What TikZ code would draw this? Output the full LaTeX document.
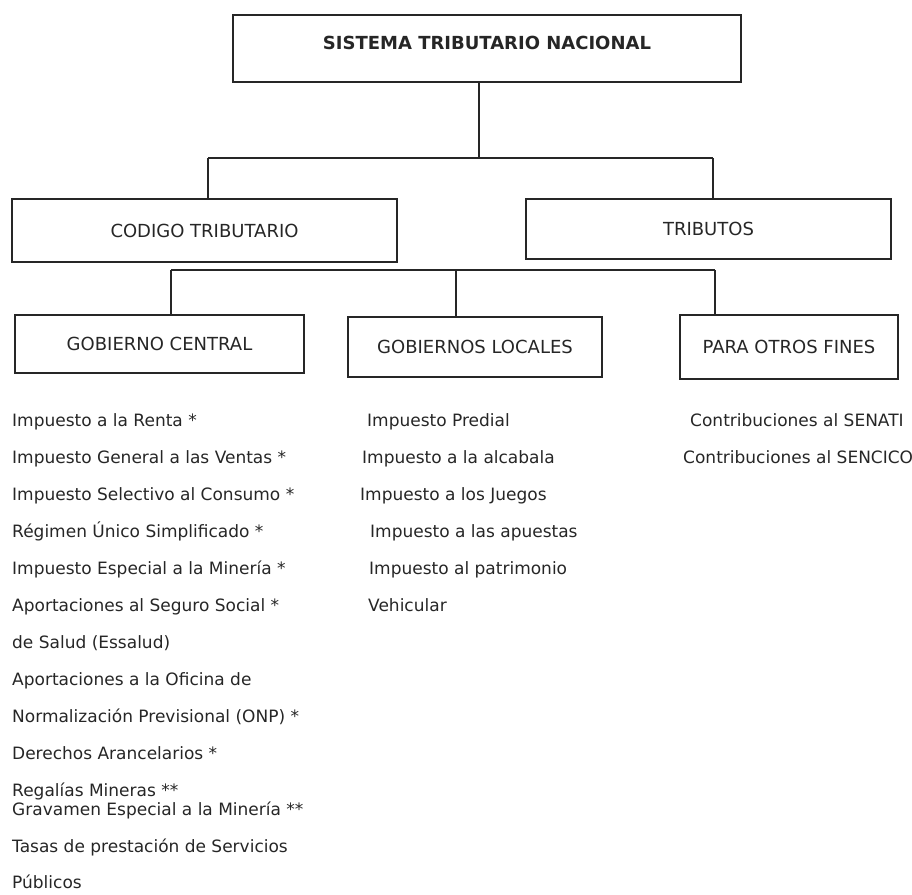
\documentclass[tikz,border=0pt]{standalone}
\usepackage{fontspec}
\setmainfont{DejaVu Sans}
\usepackage{tikz}
\usetikzlibrary{positioning}

\begin{document}
\begin{tikzpicture}[x=1pt, y=-1pt,
    box/.style={rectangle, draw=black!85, line width=1.3pt, inner sep=0pt, align=center, text=black!85, font=\fontsize{18}{22}\selectfont},
    item/.style={anchor=base west, inner sep=0pt, text=black!85, font=\fontsize{17}{21}\selectfont},
    link/.style={draw=black!85, line width=1.4pt}]

\useasboundingbox (0,0) rectangle (912,894);

% Root
\node[box, line width=2.6pt, minimum width=508pt, minimum height=67pt, text depth=12pt,
      font=\bfseries\fontsize{18}{22}\selectfont] (sistema) at (487,48.5) {SISTEMA TRIBUTARIO NACIONAL};

% Second level
\node[box, minimum width=385pt, minimum height=63pt] (codigo) at (204.5,230.5) {CODIGO TRIBUTARIO};
\node[box, minimum width=365pt, minimum height=60pt] (tributos) at (708.5,229) {TRIBUTOS};

% Third level
\node[box, line width=1.8pt, minimum width=289pt, minimum height=58pt] (central) at (159.5,344) {GOBIERNO CENTRAL};
\node[box, minimum width=254pt, minimum height=60pt] (locales) at (475,347) {GOBIERNOS LOCALES};
\node[box, line width=1.8pt, minimum width=218pt, minimum height=64pt] (otros) at (789,347) {PARA OTROS FINES};

% Junctions
\coordinate (ja) at (479,158);
\coordinate (jal) at (208,158);
\coordinate (jar) at (713,158);
\coordinate (jbl) at (171,270);
\coordinate (jbm) at (456,270);
\coordinate (jbr) at (715,270);

% Connectors
\draw[link] (sistema.south -| ja) -- (ja);
\draw[link] (jal) -- (jar);
\draw[link] (jal) -- (jal |- codigo.north);
\draw[link] (jar) -- (jar |- tributos.north);
\draw[link] (jbl) -- (jbr);
\draw[link] (jbl) -- (jbl |- central.north);
\draw[link] (jbm) -- (jbm |- locales.north);
\draw[link] (jbr) -- (jbr |- otros.north);

% Gobierno central
\node[item] (central1) at (12,426) {Impuesto a la Renta *};
\node[item] (central2) at (12,463) {Impuesto General a las Ventas *};
\node[item] (central3) at (12,500) {Impuesto Selectivo al Consumo *};
\node[item] (central4) at (12,537) {Régimen Único Simplificado *};
\node[item] (central5) at (12,574) {Impuesto Especial a la Minería *};
\node[item] (central6) at (12,611) {Aportaciones al Seguro Social *};
\node[item] (central7) at (12,648) {de Salud (Essalud)};
\node[item] (central8) at (12,685) {Aportaciones a la Oficina de};
\node[item] (central9) at (12,722) {Normalización Previsional (ONP) *};
\node[item] (central10) at (12,759) {Derechos Arancelarios *};
\node[item] (central11) at (12,796) {Regalías Mineras **};
\node[item] (central12) at (12,815) {Gravamen Especial a la Minería **};
\node[item] (central13) at (12,852) {Tasas de prestación de Servicios};
\node[item] (central14) at (12,888) {Públicos};

% Gobiernos locales
\node[item] (locales1) at (367,426) {Impuesto Predial};
\node[item] (locales2) at (362,463) {Impuesto a la alcabala};
\node[item] (locales3) at (360,500) {Impuesto a los Juegos};
\node[item] (locales4) at (370,537) {Impuesto a las apuestas};
\node[item] (locales5) at (369,574) {Impuesto al patrimonio};
\node[item] (locales6) at (368,611) {Vehicular};

% Otros fines
\node[item] (otros1) at (690,426) {Contribuciones al SENATI};
\node[item] (otros2) at (683,463) {Contribuciones al SENCICO};

\end{tikzpicture}
\end{document}
